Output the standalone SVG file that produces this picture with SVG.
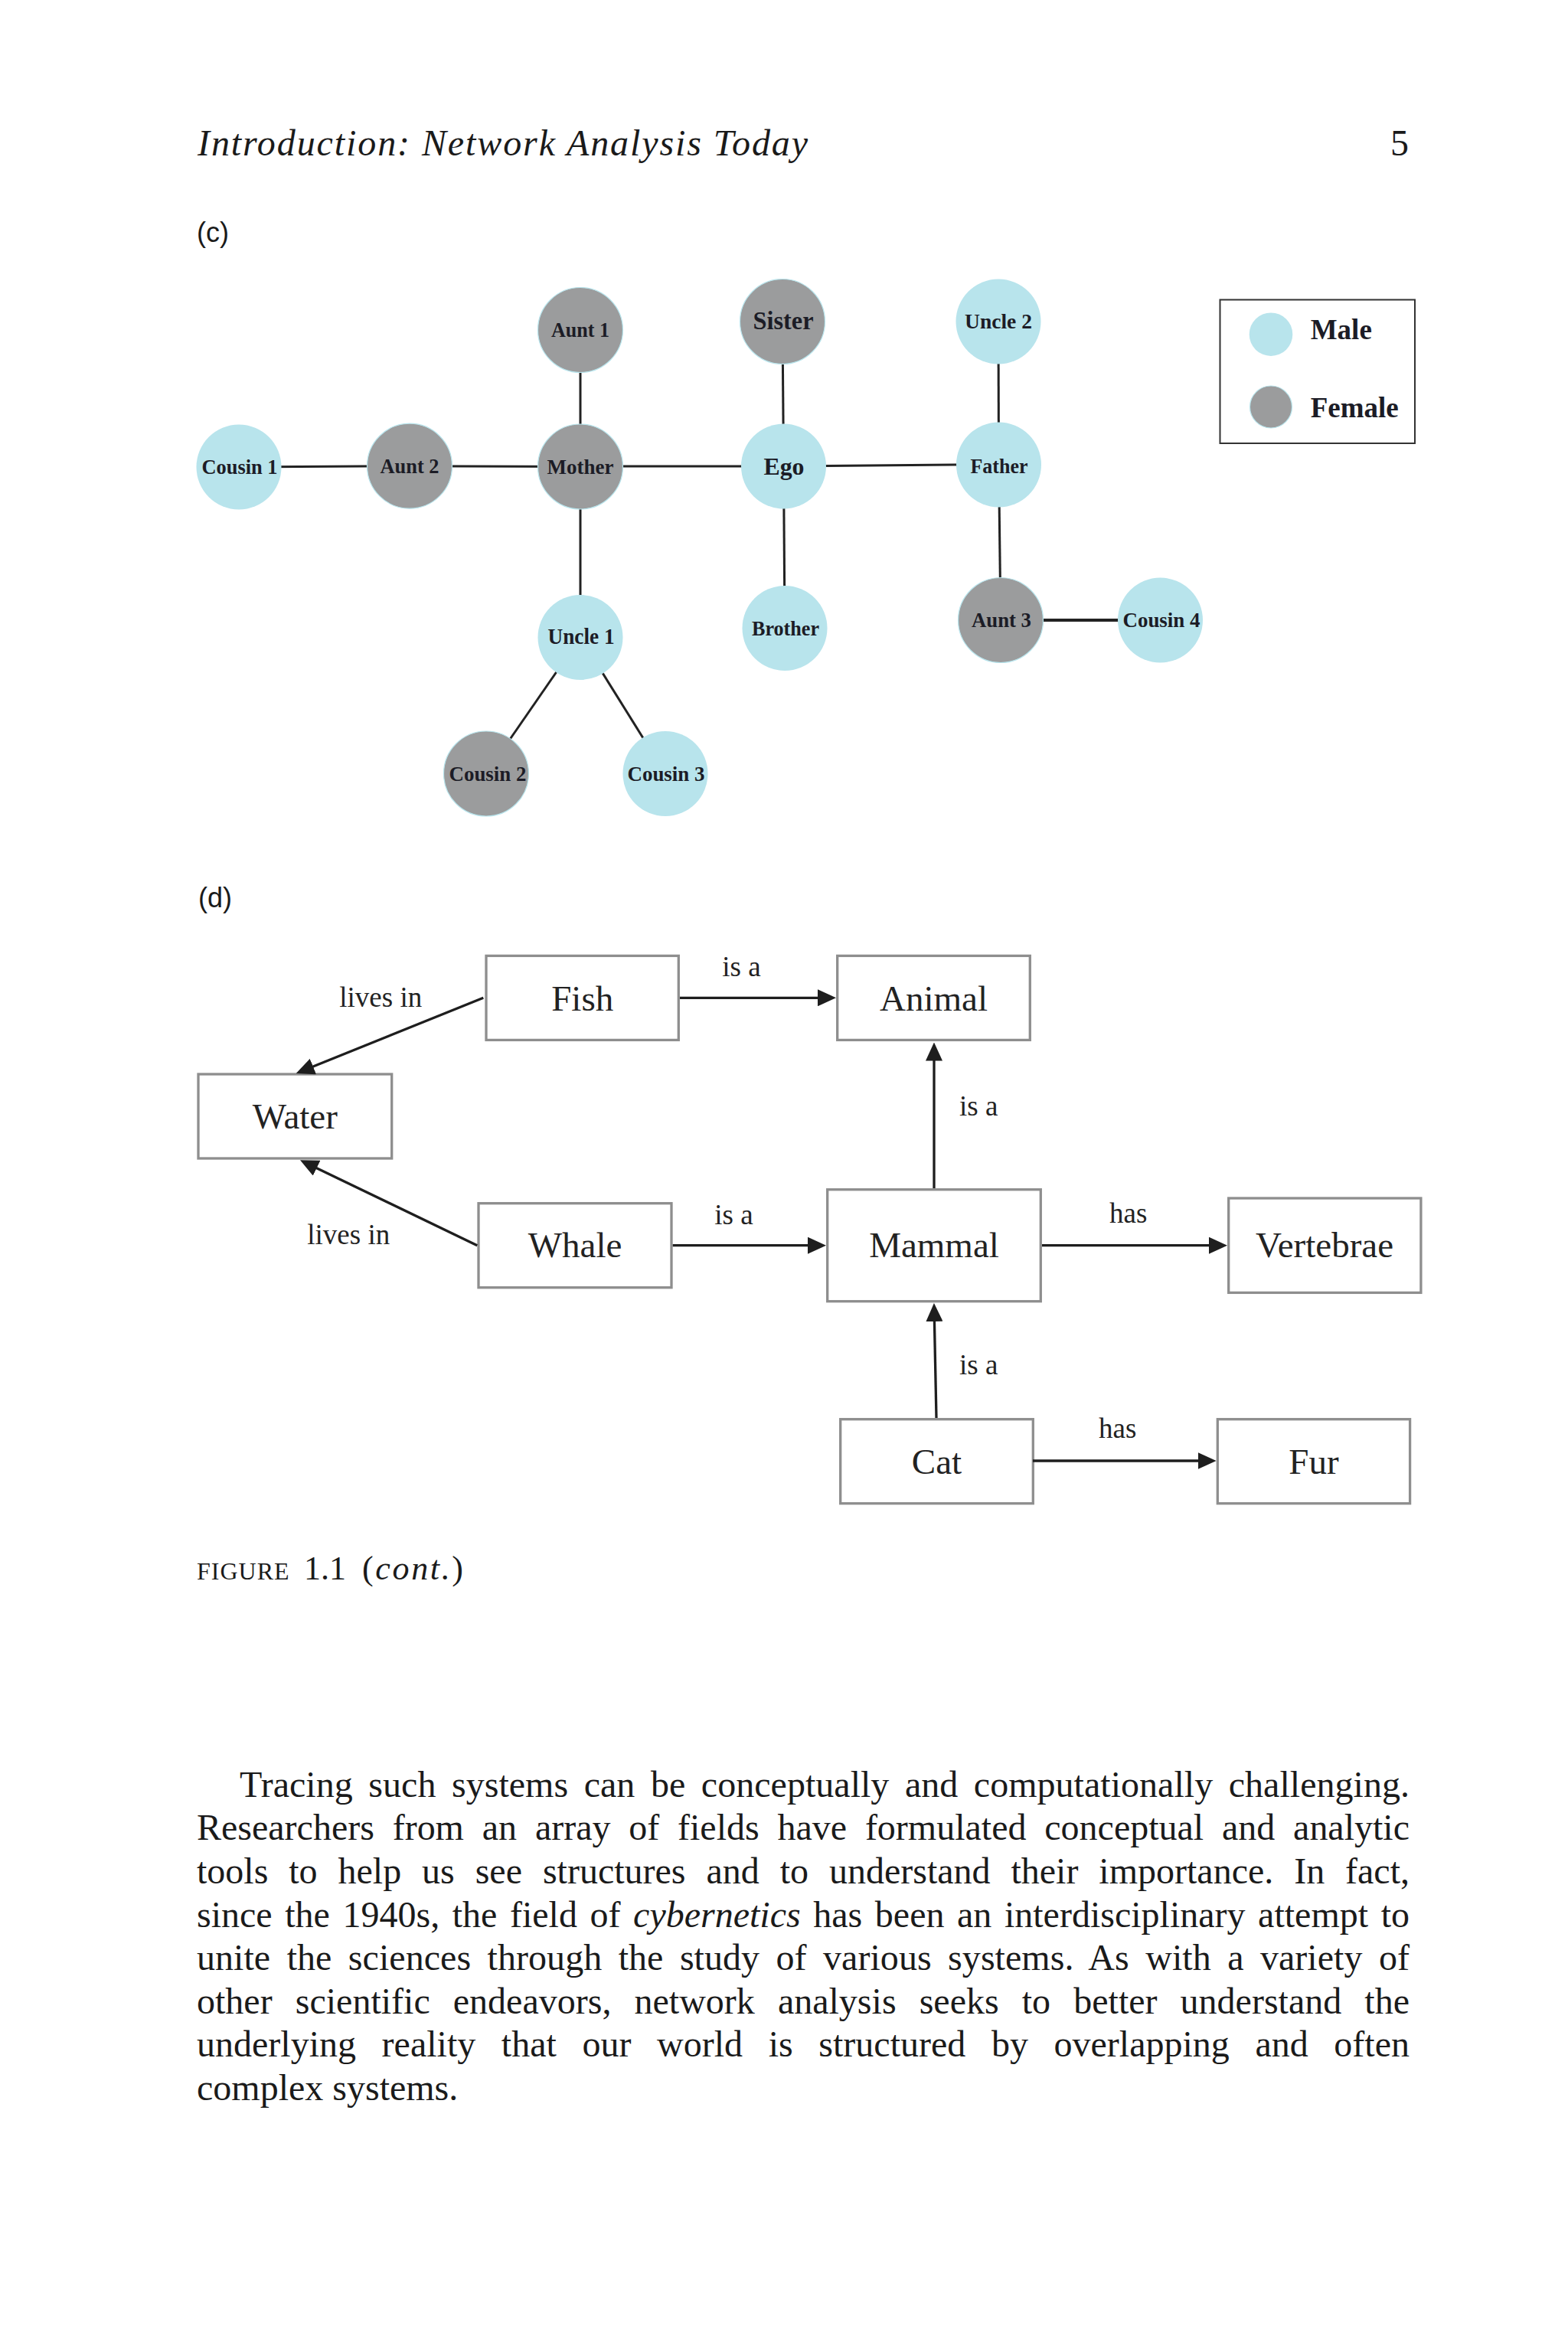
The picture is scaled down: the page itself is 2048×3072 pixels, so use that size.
<svg xmlns="http://www.w3.org/2000/svg" width="2048" height="3072" viewBox="0 0 2048 3072">
<style>
.hdr{font-family:"Liberation Serif","Times New Roman",serif;font-style:italic;font-size:48px;fill:#1a1a1a}
.pg{font-family:"Liberation Serif","Times New Roman",serif;font-size:48px;fill:#1a1a1a}
.lab{font-family:"Liberation Sans",Arial,sans-serif;font-size:36px;fill:#1a1a1a}
.edge{stroke:#222;stroke-width:3;fill:none}
.male{fill:#b8e4ec}
.female{fill:#9b9c9d;stroke:#b8e4ec;stroke-width:1.2}
.nl{font-family:"Liberation Serif","Times New Roman",serif;font-weight:bold;font-size:28px;fill:#1c1c26;text-anchor:middle}
.lg{font-family:"Liberation Serif","Times New Roman",serif;font-weight:bold;font-size:37px;fill:#1c1c26}
.box{fill:#fff;stroke:#8e8e8e;stroke-width:3.3}
.bt{font-family:"Liberation Serif","Times New Roman",serif;font-size:47px;fill:#222;text-anchor:middle}
.el{font-family:"Liberation Serif","Times New Roman",serif;font-size:37px;fill:#222}
.arr{stroke:#1e1e1e;stroke-width:3.3;fill:none;marker-end:url(#ah)}
.body{font-family:"Liberation Serif","Times New Roman",serif;font-size:48px;fill:#1a1a1a}
.cap{font-family:"Liberation Serif","Times New Roman",serif;fill:#1a1a1a}
</style>
<defs>
<marker id="ah" markerUnits="userSpaceOnUse" markerWidth="24" markerHeight="22" refX="12" refY="11" orient="auto">
<path d="M0,0 L24,11 L0,22 z" fill="#1e1e1e"/>
</marker>
</defs>
<rect width="2048" height="3072" fill="#ffffff"/>

<g id="header">
<text class="hdr" x="258" y="203" textLength="797" lengthAdjust="spacing">Introduction: Network Analysis Today</text>
<text class="pg" x="1840" y="203" text-anchor="end">5</text>
</g>

<text class="lab" x="257" y="316">(c)</text>

<g id="kin-edges">
<line class="edge" x1="312" y1="610" x2="535" y2="608.7"/>
<line class="edge" x1="535" y1="608.7" x2="758" y2="609.5"/>
<line class="edge" x1="758" y1="609" x2="1023.5" y2="609"/>
<line class="edge" x1="1023.5" y1="609" x2="1304.5" y2="606.5"/>
<line class="edge" x1="758" y1="431" x2="758" y2="609.5"/>
<line class="edge" x1="758" y1="609.5" x2="758" y2="832.5"/>
<line class="edge" x1="758" y1="832.5" x2="635" y2="1010.5"/>
<line class="edge" x1="758" y1="832.5" x2="869" y2="1010.5"/>
<line class="edge" x1="1022" y1="420" x2="1023.5" y2="609"/>
<line class="edge" x1="1023.5" y1="609" x2="1025" y2="820.5"/>
<line class="edge" x1="1304" y1="420" x2="1304.5" y2="607"/>
<line class="edge" x1="1304.5" y1="607" x2="1307" y2="810"/>
<line class="edge" x1="1307" y1="810" x2="1515.5" y2="810" style="stroke-width:4"/>
</g>

<g id="n-aunt1"><circle class="female" cx="758" cy="431" r="55.5"/><text class="nl" x="758" y="440" textLength="76" lengthAdjust="spacingAndGlyphs">Aunt 1</text></g>
<g id="n-sister"><circle class="female" cx="1022" cy="420" r="55.5"/><text class="nl" x="1023" y="430" style="font-size:34px" textLength="79" lengthAdjust="spacingAndGlyphs">Sister</text></g>
<g id="n-uncle2"><circle class="male" cx="1304" cy="420" r="55.5"/><text class="nl" x="1304" y="429" textLength="88" lengthAdjust="spacingAndGlyphs">Uncle 2</text></g>
<g id="n-cousin1"><circle class="male" cx="312" cy="610" r="55.5"/><text class="nl" x="313" y="619" textLength="99" lengthAdjust="spacingAndGlyphs">Cousin 1</text></g>
<g id="n-aunt2"><circle class="female" cx="535" cy="608.7" r="55.5"/><text class="nl" x="535" y="618" textLength="77" lengthAdjust="spacingAndGlyphs">Aunt 2</text></g>
<g id="n-mother"><circle class="female" cx="758" cy="609.5" r="55.5"/><text class="nl" x="758" y="618.5" textLength="87" lengthAdjust="spacingAndGlyphs">Mother</text></g>
<g id="n-ego"><circle class="male" cx="1023.5" cy="609" r="55.5"/><text class="nl" x="1024" y="619.5" style="font-size:32px" textLength="53" lengthAdjust="spacingAndGlyphs">Ego</text></g>
<g id="n-father"><circle class="male" cx="1304.5" cy="607" r="55.5"/><text class="nl" x="1305" y="618" textLength="75" lengthAdjust="spacingAndGlyphs">Father</text></g>
<g id="n-uncle1"><circle class="male" cx="758" cy="832.5" r="55.5"/><text class="nl" x="759" y="841" style="font-size:29px" textLength="87" lengthAdjust="spacingAndGlyphs">Uncle 1</text></g>
<g id="n-brother"><circle class="male" cx="1025" cy="820.5" r="55.5"/><text class="nl" x="1026" y="830" textLength="88" lengthAdjust="spacingAndGlyphs">Brother</text></g>
<g id="n-aunt3"><circle class="female" cx="1307" cy="810" r="55.5"/><text class="nl" x="1308" y="818.5" textLength="78" lengthAdjust="spacingAndGlyphs">Aunt 3</text></g>
<g id="n-cousin4"><circle class="male" cx="1515.5" cy="810" r="55.5"/><text class="nl" x="1517" y="818.5" textLength="101" lengthAdjust="spacingAndGlyphs">Cousin 4</text></g>
<g id="n-cousin2"><circle class="female" cx="635" cy="1010.5" r="55.5"/><text class="nl" x="637" y="1019.5" textLength="101" lengthAdjust="spacingAndGlyphs">Cousin 2</text></g>
<g id="n-cousin3"><circle class="male" cx="869" cy="1010.5" r="55.5"/><text class="nl" x="870" y="1019.5" textLength="101" lengthAdjust="spacingAndGlyphs">Cousin 3</text></g>

<g id="legend">
<rect x="1593.5" y="391.5" width="254.5" height="187.5" fill="none" stroke="#333" stroke-width="2"/>
<circle class="male" cx="1660" cy="436.7" r="28.3"/>
<text class="lg" x="1711.7" y="443.3">Male</text>
<circle class="female" cx="1660" cy="531.5" r="27.5"/>
<text class="lg" x="1711.7" y="545">Female</text>
</g>

<text class="lab" x="259" y="1185">(d)</text>

<g id="d-fish"><rect class="box" x="635" y="1248.4" width="251.3" height="110"/><text class="bt" x="760.7" y="1320">Fish</text></g>
<g id="d-animal"><rect class="box" x="1093.7" y="1248.4" width="251.6" height="110"/><text class="bt" x="1219.5" y="1320">Animal</text></g>
<g id="d-water"><rect class="box" x="259" y="1403" width="252.7" height="110"/><text class="bt" x="385.3" y="1473.5">Water</text></g>
<g id="d-whale"><rect class="box" x="625" y="1571.7" width="252" height="110"/><text class="bt" x="751" y="1642">Whale</text></g>
<g id="d-mammal"><rect class="box" x="1080.7" y="1553.7" width="278.6" height="146"/><text class="bt" x="1220" y="1642">Mammal</text></g>
<g id="d-vertebrae"><rect class="box" x="1604.7" y="1565" width="251.2" height="123.4"/><text class="bt" x="1730" y="1642">Vertebrae</text></g>
<g id="d-cat"><rect class="box" x="1097.7" y="1853.7" width="251.6" height="110"/><text class="bt" x="1223.5" y="1925">Cat</text></g>
<g id="d-fur"><rect class="box" x="1590.3" y="1853.7" width="251.3" height="110"/><text class="bt" x="1716" y="1925">Fur</text></g>

<g id="d-connectors">
<path class="arr" d="M631.3,1303.3 L397.8,1397.5"/>
<path class="arr" d="M623.3,1626.7 L402.8,1520.5"/>
<path class="arr" d="M888,1303.3 L1080,1303.3"/>
<path class="arr" d="M878.7,1626.7 L1067,1626.7"/>
<path class="arr" d="M1220,1552 L1220,1373.5"/>
<path class="arr" d="M1223,1852 L1220.2,1714"/>
<path class="arr" d="M1361,1626.7 L1591,1626.7"/>
<path class="arr" d="M1349,1908 L1576.6,1908"/>
<text class="el" x="443.3" y="1315">lives in</text>
<text class="el" x="943.3" y="1275">is a</text>
<text class="el" x="401.3" y="1625">lives in</text>
<text class="el" x="933.3" y="1599">is a</text>
<text class="el" x="1253" y="1457">is a</text>
<text class="el" x="1253" y="1795">is a</text>
<text class="el" x="1449" y="1597">has</text>
<text class="el" x="1435" y="1878">has</text>
</g>

<g id="caption">
<text class="cap" x="257" y="2063" style="font-size:32px;letter-spacing:1px">FIGURE</text>
<text class="cap" x="397" y="2063" style="font-size:44px">1.1</text>
<text class="cap" x="473" y="2063" style="font-size:44px" textLength="132" lengthAdjust="spacing">(<tspan font-style="italic">cont.</tspan>)</text>
</g>

<g id="body">
<text class="body" x="313" y="2346.7" style="word-spacing:8.5px" textLength="1528" lengthAdjust="spacing">Tracing such systems can be conceptually and computationally challenging.</text>
<text class="body" x="257" y="2403.3" style="word-spacing:11.8px" textLength="1584" lengthAdjust="spacing">Researchers from an array of fields have formulated conceptual and analytic</text>
<text class="body" x="257" y="2460" style="word-spacing:14.9px" textLength="1584" lengthAdjust="spacing">tools to help us see structures and to understand their importance. In fact,</text>
<text class="body" x="257" y="2516.7" style="word-spacing:4.6px" textLength="1584" lengthAdjust="spacing">since the 1940s, the field of <tspan font-style="italic">cybernetics</tspan> has been an interdisciplinary attempt to</text>
<text class="body" x="257" y="2573" style="word-spacing:9.4px" textLength="1584" lengthAdjust="spacing">unite the sciences through the study of various systems. As with a variety of</text>
<text class="body" x="257" y="2630" style="word-spacing:18.1px" textLength="1584" lengthAdjust="spacing">other scientific endeavors, network analysis seeks to better understand the</text>
<text class="body" x="257" y="2686.3" style="word-spacing:21.6px" textLength="1584" lengthAdjust="spacing">underlying reality that our world is structured by overlapping and often</text>
<text class="body" x="257" y="2742.7">complex systems.</text>
</g>
</svg>
